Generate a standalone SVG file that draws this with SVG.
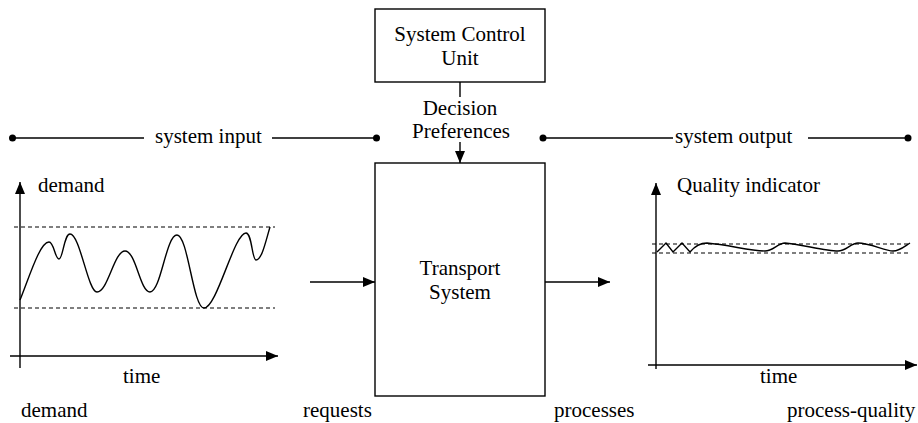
<svg xmlns="http://www.w3.org/2000/svg" width="918" height="423" viewBox="0 0 918 423" font-family="'Liberation Serif', Tinos, 'Times New Roman', 'DejaVu Serif', serif">
<defs>
<style>
text{font-family:'Liberation Serif', Tinos, 'Times New Roman', 'DejaVu Serif', serif;font-size:21px;fill:#000}
.c{text-anchor:middle}
.ln{stroke:#000;stroke-width:1.4;fill:none}
.ds{stroke:#000;stroke-width:1.2;fill:none;stroke-dasharray:4 3}
.bx{stroke:#000;stroke-width:1.4;fill:#fff}
</style>
<marker id="ah" viewBox="0 0 12 10" refX="12" refY="5" markerWidth="12" markerHeight="10" markerUnits="userSpaceOnUse" orient="auto"><path d="M0,0 L12,5 L0,10 Z" fill="#000"/></marker>
</defs>
<rect width="918" height="423" fill="#fff"/>
<g id="control-unit">
<rect class="bx" x="375" y="9" width="170" height="73"/>
<text class="c" x="460" y="41">System Control</text>
<text class="c" x="460" y="65">Unit</text>
</g>
<g id="transport-system">
<rect class="bx" x="375" y="163" width="170" height="233"/>
<text class="c" x="460" y="275">Transport</text>
<text class="c" x="460" y="299">System</text>
</g>
<g id="connectors">
<line class="ln" x1="460" y1="82" x2="460" y2="97"/>
<line class="ln" x1="460" y1="142" x2="460" y2="163" marker-end="url(#ah)"/>
<line class="ln" x1="310" y1="282" x2="375" y2="282" marker-end="url(#ah)"/>
<line class="ln" x1="545" y1="282" x2="610" y2="282" marker-end="url(#ah)"/>
</g>
<g id="decision-label">
<text class="c" x="460" y="115">Decision</text>
<text class="c" x="461" y="138">Preferences</text>
</g>
<g id="system-input">
<circle cx="12.5" cy="138" r="3.5"/>
<circle cx="376.5" cy="138" r="3.5"/>
<line class="ln" x1="12" y1="138" x2="144" y2="138"/>
<line class="ln" x1="272" y1="138" x2="376" y2="138"/>
<text x="155" y="143">system input</text>
</g>
<g id="system-output">
<circle cx="543" cy="138" r="3.5"/>
<circle cx="908" cy="138" r="3.5"/>
<line class="ln" x1="543" y1="138" x2="673" y2="138"/>
<line class="ln" x1="808" y1="138" x2="908" y2="138"/>
<text x="675" y="143">system output</text>
</g>
<g id="demand-chart">
<line class="ln" x1="20" y1="368" x2="20" y2="182" marker-end="url(#ah)"/>
<line class="ln" x1="10" y1="356" x2="278" y2="356" marker-end="url(#ah)"/>
<line class="ds" x1="14" y1="227" x2="275" y2="227"/>
<line class="ds" x1="14" y1="308" x2="275" y2="308"/>
<path class="ln" d="M20,300 C30,275 40,242 49,242 C54,242 55,259 59,259 C63,259 64,234 70,234 C80,234 88,292 97,292 C108,292 114,251 125,251 C136,251 140,292 150,292 C161,292 166,235 177,235 C188,235 193,308 204,308 C217,308 234,233 246,233 C252,233 252,260 256,260 C262,260 266,240 270,227"/>
<text x="38" y="192">demand</text>
<text x="123" y="383">time</text>
</g>
<g id="quality-chart">
<line class="ln" x1="656" y1="369" x2="656" y2="183" marker-end="url(#ah)"/>
<line class="ln" x1="648" y1="365" x2="917" y2="365" marker-end="url(#ah)"/>
<line class="ds" x1="652" y1="244" x2="910" y2="244"/>
<line class="ds" x1="652" y1="253" x2="910" y2="253"/>
<path class="ln" d="M657,252 L666,243 L673,252 L682,243 L690,252 C695,246 700,243 707,243 C730,245 750,251 765,251 C773,251 778,243 785,243 C800,244 825,251 838,251 C846,251 851,243 858,243 C870,243 885,251 893,251 C900,251 905,246 910,243"/>
<text x="677" y="192">Quality indicator</text>
<text x="760" y="383">time</text>
</g>
<g id="bottom-labels">
<text x="21" y="417">demand</text>
<text x="303" y="417">requests</text>
<text x="554" y="417">processes</text>
<text x="787" y="417">process-quality</text>
</g>
</svg>
